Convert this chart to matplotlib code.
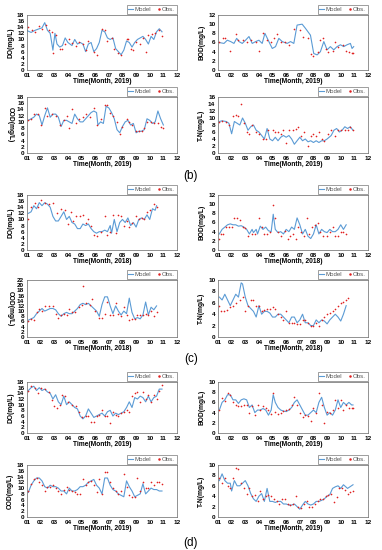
import matplotlib
matplotlib.use("Agg")
import matplotlib.pyplot as plt

plt.rcParams['font.family'] = ['Liberation Sans', 'DejaVu Sans']

# ---- data: (month, value) pairs ----
# group (b): 2019
DO_B_MODEL = [(1.05,12.8),(1.3,12.3),(1.6,13.0),(1.9,13.5),(2.1,13.8),(2.3,15.5),(2.5,13.0),(2.7,12.0),(2.9,6.5),
              (3.05,12.0),(3.2,8.5),(3.4,7.5),(3.6,8.0),(3.8,10.5),(4.0,9.0),(4.3,8.0),(4.5,10.0),(4.7,8.5),(4.9,9.0),
              (5.1,8.5),(5.3,6.0),(5.5,8.5),(5.7,9.0),(5.9,6.0),(6.1,7.0),(6.3,9.0),(6.5,13.0),(6.7,12.5),(6.9,10.5),
              (7.1,10.0),(7.3,10.5),(7.5,7.0),(7.7,6.0),(7.9,5.0),(8.1,6.5),(8.3,9.5),(8.5,9.0),(8.7,7.5),(8.9,9.0),
              (9.1,10.0),(9.3,10.5),(9.5,11.0),(9.7,10.0),(9.9,8.5),(10.1,11.0),(10.3,10.0),(10.5,12.5),(10.7,13.5),(10.9,12.5)]
DO_B_OBS = [(1.1,14.0),(1.4,13.2),(1.6,12.5),(1.9,14.5),(2.1,13.5),(2.4,14.8),(2.6,13.0),(2.8,12.5),(2.9,5.5),(3.1,11.5),
            (3.4,7.0),(3.6,7.0),(3.8,8.5),(4.1,10.0),(4.3,8.8),(4.6,8.0),(4.8,9.0),(5.1,8.5),(5.3,6.5),(5.5,9.5),(5.9,5.8),
            (6.1,4.8),(6.5,13.5),(6.7,13.0),(6.9,9.5),(7.2,10.5),(7.4,7.0),(7.7,5.5),(7.9,5.0),(8.3,10.0),(8.4,10.2),
            (8.6,7.0),(8.8,6.5),(9.0,9.0),(9.3,8.5),(9.5,10.5),(9.7,6.0),(9.9,11.5),(10.2,11.8),(10.4,12.0),(10.7,13.0),(10.9,11.0)]
BOD_B_MODEL = [(1.07,6.0),(1.44,5.8),(1.68,6.5),(1.93,6.2),(2.17,5.8),(2.37,6.9),(2.54,6.2),(2.78,5.8),(3.02,6.5),(3.27,7.3),
               (3.51,5.8),(3.76,6.2),(4.0,6.5),(4.24,5.8),(4.44,8.0),(4.73,6.2),(4.98,4.7),(5.22,5.1),(5.46,6.9),(5.71,6.2),
               (6.07,5.8),(6.32,6.2),(6.56,5.8),(6.8,9.8),(7.17,10.0),(7.41,9.1),(7.78,7.6),(8.02,3.6),(8.27,3.3),(8.51,4.0),
               (8.76,6.2),(9.0,4.4),(9.24,5.1),(9.49,4.4),(9.73,5.1),(9.98,5.5),(10.22,5.1),(10.46,5.5),(10.71,5.8),(10.83,4.7),(10.95,5.1)]
BOD_B_OBS = [(1.1,6.0),(1.4,7.0),(1.5,7.0),(1.9,4.2),(2.3,7.8),(2.5,6.5),(2.8,6.5),(3.1,6.0),(3.4,6.5),(3.8,6.0),(4.0,4.2),
             (4.3,8.0),(4.6,6.5),(4.9,6.0),(5.1,7.0),(5.3,7.8),(5.6,6.0),(5.9,6.0),(6.2,5.5),(6.6,9.0),(7.0,8.8),(7.2,7.2),
             (7.6,7.0),(7.8,3.5),(8.0,3.0),(8.3,4.0),(8.5,6.5),(8.7,7.0),(8.9,4.5),(9.1,4.0),(9.4,4.2),(9.6,6.0),(9.8,5.0),
             (10.2,5.5),(10.4,4.2),(10.6,4.0),(10.8,3.8),(10.9,3.6)]
COD_B_MODEL = [(1.1,10.5),(1.3,11),(1.5,11.5),(1.7,12.5),(1.9,12),(2.1,9),(2.3,12),(2.5,14.5),(2.7,11.5),(2.9,12.5),(3.1,12.5),
               (3.3,11.5),(3.5,8.5),(3.7,10.5),(3.9,10.5),(4.1,10),(4.3,9.5),(4.5,12.5),(4.7,11),(4.9,10),(5.1,10),(5.3,11),
               (5.5,12),(5.7,13),(5.9,13.5),(6.1,13),(6.2,9),(6.4,10),(6.6,9.5),(6.8,15),(7.0,14.5),(7.2,13),(7.4,11),(7.6,7.5),
               (7.8,6.5),(8.0,8.5),(8.2,10),(8.4,10.5),(8.6,9),(8.8,9.5),(9.0,6.5),(9.2,7),(9.4,7),(9.6,7.5),(9.8,11),(10.0,10.5),
               (10.2,9.5),(10.4,10),(10.6,13.5),(10.8,11),(11.0,9)]
COD_B_OBS = [(1.1,10.5),(1.3,11),(1.5,12.5),(1.8,12.5),(2.0,9),(2.3,14.5),(2.5,12),(2.8,12.5),(3.1,12),(3.4,9),(3.7,10.5),
             (3.9,12),(4.1,8),(4.3,14),(4.6,9.5),(4.8,11),(5.1,11.5),(5.3,12.5),(5.6,11.5),(5.9,14.5),(6.1,9),(6.4,11),
             (6.7,15.5),(6.9,15.5),(7.1,13),(7.3,12),(7.6,10),(7.8,6),(8.0,8.5),(8.3,11),(8.5,10),(8.7,9),(9.0,7),(9.2,7),
             (9.4,7),(9.6,8),(9.8,10),(10.1,10),(10.3,9.5),(10.6,9.5),(10.8,8.5),(11.0,8)]
TN_B_MODEL = [(1.1,9),(1.3,9.2),(1.6,9),(1.8,8.5),(2.0,5.5),(2.2,9),(2.4,8.5),(2.6,8),(2.8,10),(3.0,8.5),(3.2,6.5),(3.4,7.5),
              (3.6,8),(3.8,6.5),(4.0,6),(4.2,5),(4.4,4),(4.6,7),(4.8,4),(5.0,3.5),(5.2,4.5),(5.4,3.5),(5.6,4.5),(5.8,5),
              (6.0,4.5),(6.2,5),(6.4,4),(6.6,2.5),(6.8,3.5),(7.0,4.5),(7.2,3.5),(7.4,4),(7.6,3.2),(7.8,3.5),(8.0,3),(8.2,3.5),
              (8.4,3),(8.6,3.5),(8.8,3.5),(9.0,4),(9.3,5),(9.5,6.5),(9.7,7),(9.9,6),(10.1,6.5),(10.3,7.5),(10.5,7),(10.7,7.5),(10.9,6.5)]
TN_B_OBS = [(1.1,9),(1.3,9.2),(1.6,9),(1.8,8),(2.1,10.5),(2.3,11),(2.5,10.5),(2.7,14),(2.9,8.5),(3.1,6),(3.3,5.5),(3.5,8),
            (3.8,6),(4.0,5.5),(4.3,4),(4.5,4),(4.7,6.5),(5.0,6.5),(5.2,6),(5.4,6),(5.6,5.5),(5.8,6.5),(6.0,3),(6.2,6.5),
            (6.5,6.5),(6.7,7),(6.9,7.5),(7.1,5),(7.3,6),(7.6,2),(7.8,5),(8.0,5.5),(8.2,5),(8.4,6),(8.6,4),(8.8,3.5),(9.1,5.5),
            (9.3,6.5),(9.6,5),(9.8,6.5),(10.0,6.5),(10.3,6.5),(10.5,6.5),(10.7,7.5),(10.9,6.5)]

# group (c): 2018
DO_C_MODEL = [(1.1,12),(1.3,12.5),(1.5,14.5),(1.7,13.5),(1.9,15.5),(2.1,14.5),(2.3,15.5),(2.5,15),(2.7,14),(2.9,11),(3.1,9.5),
              (3.3,9.5),(3.5,11),(3.7,12.5),(3.9,10),(4.1,11),(4.3,9),(4.5,8.5),(4.7,7),(4.9,7),(5.1,8.5),(5.3,8),(5.5,8.5),
              (5.7,7),(5.9,6),(6.1,5.5),(6.3,6),(6.5,6),(6.7,6.5),(6.9,6),(7.1,8),(7.2,5.5),(7.4,10),(7.6,6),(7.8,9),(8.0,10),
              (8.2,9),(8.4,10.5),(8.6,8),(8.8,9),(9.0,7.5),(9.2,10),(9.4,10.5),(9.6,10),(9.8,11.5),(10.0,10),(10.2,13.5),(10.4,13),(10.5,14.5)]
DO_C_OBS = [(1.05,10),(1.3,14),(1.6,15.5),(1.8,14),(2.0,16.5),(2.3,15.5),(2.6,15),(2.9,15.5),(3.2,12),(3.5,13.5),(3.8,13),
            (4.0,8.5),(4.2,12.5),(4.4,9.5),(4.6,11),(4.9,11),(5.1,11.5),(5.3,9),(5.5,10),(5.7,8),(5.9,5),(6.1,4.5),(6.4,6),
            (6.7,11),(6.9,5),(7.1,6),(7.3,11.5),(7.5,5.5),(7.7,11.5),(7.9,11),(8.1,8),(8.3,9.5),(8.5,7.5),(8.7,9),(9.0,11),
            (9.2,10),(9.4,10.5),(9.6,10),(9.8,12.5),(10.0,13),(10.3,15),(10.5,14)]
BOD_C_MODEL = [(1.1,3.5),(1.3,4.5),(1.5,5),(1.7,5.5),(1.9,5.7),(2.1,5.5),(2.3,5.5),(2.5,5.2),(2.7,5.3),(2.9,5),(3.1,4.5),
               (3.3,3.5),(3.5,4.5),(3.6,3.8),(3.8,4.5),(3.9,3.5),(4.1,5.2),(4.3,4.5),(4.5,5),(4.7,4.2),(4.9,4),(5.05,7.8),
               (5.2,4.5),(5.4,3.8),(5.6,4),(5.8,3.5),(6.0,4.5),(6.2,4),(6.4,5),(6.6,4.5),(6.8,7),(7.0,5.5),(7.2,3.5),(7.4,4.5),
               (7.6,3),(7.8,2.5),(8.0,3.5),(8.2,5.5),(8.4,3.5),(8.6,4.5),(8.8,4),(9.0,3.8),(9.2,4.5),(9.4,4),(9.6,4),(9.8,4.5),
               (10.0,5.5),(10.2,4.5),(10.4,5.5)]
BOD_C_OBS = [(1.05,2.5),(1.2,3.5),(1.4,3.5),(1.6,5),(1.8,5),(2.0,5),(2.2,7),(2.4,7),(2.6,6.5),(2.8,5),(3.0,4.8),(3.2,3),
             (3.5,3.5),(3.7,3.5),(4.0,7),(4.2,5),(4.4,3.5),(4.6,3.5),(4.8,4),(5.0,9.8),(5.2,7),(5.4,4),(5.6,3),(5.9,4.2),
             (6.1,2.5),(6.3,3),(6.5,3.5),(6.7,2.5),(6.9,5),(7.1,4),(7.3,3),(7.5,7),(7.7,3.5),(7.9,5),(8.1,5.5),(8.3,6),(8.5,4),
             (8.7,3),(9.0,3),(9.2,4),(9.4,5),(9.6,3),(9.8,3),(10.0,4),(10.2,4),(10.4,3.5)]
COD_C_MODEL = [(1.1,6.5),(1.3,7),(1.5,7.5),(1.7,9),(1.9,10),(2.1,11),(2.3,10),(2.5,10.5),(2.7,11),(2.9,11),(3.1,10.5),(3.3,9),
               (3.5,8),(3.7,9),(3.9,9.5),(4.1,9),(4.3,9),(4.5,10),(4.7,11),(4.9,12.5),(5.1,13),(5.3,12.5),(5.5,13),(5.7,12),
               (5.9,11),(6.1,10),(6.3,8),(6.5,12.5),(6.7,15.5),(6.9,15.5),(7.1,12),(7.3,9),(7.5,12),(7.7,10),(7.9,8.5),(8.1,10),
               (8.3,9),(8.5,15),(8.7,9.5),(8.9,7),(9.1,7.5),(9.3,7),(9.5,8.5),(9.7,13.5),(9.9,8.5),(10.1,11.5),(10.3,10.5),(10.5,12)]
COD_C_OBS = [(1.05,6),(1.3,7),(1.5,6.5),(1.7,9.5),(1.9,11),(2.1,10),(2.3,12),(2.6,12),(2.9,12),(3.1,9),(3.3,7.5),(3.5,8.5),
             (3.7,9),(3.9,8.5),(4.1,11),(4.3,9.5),(4.5,9.5),(4.8,11.5),(5.0,12.5),(5.1,19.5),(5.3,13),(5.6,12.5),(5.8,14.5),
             (6.0,10),(6.3,7.5),(6.5,7.5),(6.7,9),(6.9,13.5),(7.1,8.5),(7.3,8.5),(7.5,13),(7.7,9),(7.9,8),(8.1,11.5),(8.3,8.5),
             (8.5,6.5),(8.7,7),(8.9,7),(9.1,8.5),(9.3,8.5),(9.5,8.5),(9.7,9),(9.9,8.5),(10.1,10),(10.3,8),(10.5,9.5)]
TN_C_MODEL = [(1.1,7),(1.3,6.5),(1.5,7.5),(1.7,6.5),(1.9,5.5),(2.1,6.5),(2.3,7.5),(2.5,7),(2.7,9.5),(2.8,9.3),(3.0,7),(3.2,5.5),
              (3.4,5),(3.6,4.5),(3.8,3.5),(4.0,5.5),(4.2,4),(4.4,4.5),(4.6,4.5),(4.8,4.2),(5.0,3.5),(5.2,3.5),(5.4,4),(5.6,4),
              (5.8,3.5),(6.0,3),(6.2,2.5),(6.4,3.5),(6.6,3.5),(6.8,2.5),(7.0,3),(7.2,4),(7.4,2.5),(7.6,2.5),(7.8,2),(8.0,2),
              (8.2,3),(8.4,2.5),(8.6,3),(8.8,2.8),(9.0,2.3),(9.2,3),(9.4,3.5),(9.6,4),(9.8,3.5),(10.0,2.8),(10.2,4),(10.4,5.5)]
TN_C_OBS = [(1.05,5.5),(1.25,4.5),(1.45,4.5),(1.65,4.8),(1.85,5.2),(2.1,5.5),(2.3,6),(2.6,6.5),(2.8,7),(3.0,4.5),(3.2,5.5),
            (3.4,6.5),(3.6,6.5),(3.8,5.5),(4.0,5.5),(4.2,4.5),(4.4,4.8),(4.6,5),(4.8,5),(5.0,5.2),(5.2,5),(5.4,4),(5.6,3.5),
            (5.8,3),(6.0,4.5),(6.2,2.5),(6.4,2.5),(6.6,2.5),(6.8,2.2),(7.0,2.3),(7.2,3),(7.4,3),(7.6,2.5),(7.8,2),(8.0,2),
            (8.2,2.5),(8.4,2),(8.6,3),(8.8,3.5),(9.0,4),(9.2,4.2),(9.4,4.5),(9.6,5),(9.8,5.5),(10.0,6),(10.2,6.2),(10.4,6.5),(10.5,6.8)]

# group (d): 2019
DO_D_MODEL = [(1.1,15),(1.3,16),(1.5,16.5),(1.7,15),(1.9,16),(2.1,15),(2.3,15.5),(2.5,14.5),(2.7,14),(2.9,12),(3.1,13.5),
              (3.3,11),(3.5,10),(3.7,13),(3.9,10),(4.1,11),(4.3,10),(4.5,9),(4.7,8.5),(4.9,6),(5.1,5),(5.3,6),(5.5,8.5),(5.7,7),
              (5.9,5.5),(6.1,6),(6.3,6.5),(6.5,7),(6.7,6),(6.9,7.5),(7.1,8),(7.3,6),(7.5,7),(7.7,6.5),(7.9,7),(8.1,7.5),(8.3,9),
              (8.5,11),(8.7,9),(8.9,12.5),(9.1,12),(9.3,13),(9.5,12.5),(9.7,11),(9.9,13),(10.1,11),(10.3,12.5),(10.5,13),(10.7,15.5),(10.9,15.5)]
DO_D_OBS = [(1.05,15),(1.3,16.5),(1.6,16),(1.8,14),(2.0,16),(2.3,15.5),(2.6,14.5),(2.8,11.5),(3.0,9.5),(3.2,9),(3.4,10),
            (3.6,13.5),(3.8,13),(4.0,11),(4.3,10),(4.6,9.5),(4.8,7.5),(5.0,5.5),(5.3,6),(5.5,6),(5.7,4),(5.9,4),(6.1,6),(6.3,6.5),
            (6.5,8),(6.7,6),(6.9,6),(7.1,3.5),(7.3,7.5),(7.5,6.5),(7.7,6),(7.9,7),(8.1,7.5),(8.3,8),(8.5,7.5),(8.7,13),(8.9,14),
            (9.1,14.5),(9.3,11),(9.5,14.5),(9.7,12),(9.9,13.5),(10.1,11),(10.3,13.5),(10.5,12),(10.7,15),(10.9,17)]
BOD_D_MODEL = [(1.1,4.5),(1.3,6),(1.5,6.5),(1.7,7.5),(1.9,7.5),(2.1,6.5),(2.3,6.5),(2.5,5.8),(2.7,6.5),(2.9,6.7),(3.1,6.5),
               (3.3,5),(3.5,5.5),(3.7,4),(3.9,4.5),(4.1,4.5),(4.3,4.8),(4.5,4.5),(4.7,3.5),(4.9,4.5),(5.05,7.5),(5.2,6),(5.4,5),
               (5.6,4.5),(5.8,4.3),(6.0,4.2),(6.2,4.5),(6.4,5),(6.6,6),(6.8,6.5),(7.0,5.5),(7.2,4.5),(7.4,3.5),(7.6,3.5),(7.8,4),
               (8.0,4.5),(8.2,4),(8.4,6),(8.6,7),(8.8,5),(9.0,3.5),(9.2,4),(9.4,3.5),(9.6,4.5),(9.8,6.5),(10.0,5),(10.2,6),
               (10.4,5.5),(10.6,6),(10.8,5.5),(10.9,5.5)]
BOD_D_OBS = [(1.05,4.5),(1.3,6.8),(1.5,6.3),(1.7,7.8),(1.9,7.5),(2.1,6),(2.3,5.5),(2.5,5.2),(2.7,5.3),(2.9,5.5),(3.1,5.5),
             (3.3,4),(3.5,5.2),(3.7,3.5),(3.9,5.5),(4.1,4.5),(4.3,5.3),(4.5,5),(4.7,4.5),(4.9,3.8),(5.05,7.8),(5.2,4.2),
             (5.4,3.8),(5.6,4),(5.8,4.3),(6.0,4.5),(6.2,4.8),(6.4,5.5),(6.6,7),(6.8,5.5),(7.0,4),(7.2,3.2),(7.4,3.5),(7.6,3.3),
             (7.8,2.3),(8.0,5),(8.2,4),(8.4,7.8),(8.6,5.5),(8.8,2),(9.0,4.2),(9.2,4),(9.4,4.5),(9.6,6.5),(9.8,5),(10.0,6.5),
             (10.2,4.5),(10.4,5.5),(10.6,5),(10.8,5),(10.9,5)]
COD_D_MODEL = [(1.1,8.5),(1.3,11),(1.5,12.5),(1.7,13.5),(1.9,13.5),(2.1,12.5),(2.3,10.5),(2.5,10),(2.7,11),(2.9,10.5),(3.1,10.5),
               (3.3,10),(3.5,9),(3.7,9),(3.9,8),(4.1,10),(4.3,9),(4.5,9),(4.7,9.5),(4.9,10.5),(5.1,10.5),(5.3,11),(5.5,12),
               (5.7,12.5),(5.9,13),(6.1,11),(6.3,10),(6.5,8),(6.7,13.5),(6.9,13.5),(7.1,11),(7.3,9.5),(7.5,9),(7.7,8),(7.9,7.5),
               (8.1,7),(8.3,12.5),(8.5,10.5),(8.7,9),(8.9,7),(9.1,7.5),(9.3,8),(9.5,11.5),(9.7,8),(9.9,9),(10.1,10),(10.3,9.5),
               (10.5,9.5),(10.7,9),(10.9,9)]
COD_D_OBS = [(1.05,9),(1.3,11.5),(1.5,13),(1.7,13.5),(1.9,12),(2.1,11),(2.3,9),(2.5,10.5),(2.7,10.5),(2.9,11),(3.1,10),(3.3,9),
             (3.5,8),(3.7,9.5),(3.9,10.5),(4.1,9.5),(4.3,9),(4.5,8.5),(4.7,8),(4.9,8),(5.1,13),(5.3,11),(5.5,12),(5.7,12.5),
             (5.9,11),(6.1,8.5),(6.3,13),(6.5,8),(6.7,15.5),(6.9,15.5),(7.1,12),(7.3,10),(7.5,9),(7.7,8),(7.9,9),(8.1,15),
             (8.3,10.5),(8.5,7.5),(8.7,7),(8.9,7),(9.1,13.5),(9.3,9),(9.5,12),(9.7,10),(9.9,10),(10.1,12),(10.3,11),(10.5,12),
             (10.7,12),(10.9,11.5)]
TN_D_MODEL = [(1.1,7),(1.3,8.3),(1.5,7),(1.7,6.5),(1.9,6.5),(2.0,5),(2.2,7),(2.4,6),(2.6,6),(2.8,6.5),(3.0,7),(3.2,6),(3.4,4.5),
              (3.6,3.5),(3.8,3),(4.0,4),(4.2,4.5),(4.4,3),(4.6,5.5),(4.8,3),(5.0,3),(5.2,2.8),(5.4,3),(5.6,3),(5.8,2.5),(6.0,2.5),
              (6.2,2.3),(6.4,2.3),(6.6,2.5),(6.8,2),(7.0,1.5),(7.2,2.3),(7.4,3),(7.6,2.5),(7.8,2.3),(8.0,2.5),(8.2,3),(8.4,3),
              (8.6,3.2),(8.8,3.5),(9.0,4),(9.2,4.3),(9.4,5.5),(9.6,5.8),(9.8,6),(10.0,5.5),(10.2,6.2),(10.5,5.5),(10.9,6.2)]
TN_D_OBS = [(1.05,7.5),(1.3,6.5),(1.5,7.5),(1.7,6),(1.9,5.5),(2.1,7.5),(2.3,9.5),(2.5,9.2),(2.7,6.5),(2.9,5.5),(3.1,4.5),
            (3.3,5.5),(3.5,4),(3.7,4.3),(3.9,3),(4.1,5),(4.3,3.5),(4.5,4),(4.7,4.2),(4.9,4),(5.1,3.5),(5.3,3),(5.5,2.5),
            (5.7,3.5),(5.9,3.5),(6.1,2.5),(6.3,2.3),(6.5,2.5),(6.7,4),(6.9,2),(7.1,1.8),(7.3,2.5),(7.5,3),(7.7,2),(7.9,2),
            (8.1,2.5),(8.3,3),(8.5,3.5),(8.7,3.5),(8.9,4),(9.1,4.2),(9.3,4.5),(9.5,2.8),(9.7,3.8),(9.9,5.5),(10.1,5.5),
            (10.3,5.2),(10.5,4.5),(10.7,4.8),(10.9,5)]

MONTH_LABELS = ["01", "02", "03", "04", "05", "06", "07", "08", "09", "10", "11", "12"]

# panel: (model, obs, ylabel, ymax, year, label rotation)
PANELS = [
    (DO_B_MODEL, DO_B_OBS, "DO(mg/L)", 18, 2019, 90),
    (BOD_B_MODEL, BOD_B_OBS, "BOD(mg/L)", 12, 2019, 90),
    (COD_B_MODEL, COD_B_OBS, "COD(mg/L)", 18, 2019, 270),
    (TN_B_MODEL, TN_B_OBS, "T-N(mg/L)", 16, 2019, 90),
    (DO_C_MODEL, DO_C_OBS, "DO(mg/L)", 18, 2018, 90),
    (BOD_C_MODEL, BOD_C_OBS, "BOD(mg/L)", 12, 2018, 90),
    (COD_C_MODEL, COD_C_OBS, "COD(mg/L)", 22, 2018, 270),
    (TN_C_MODEL, TN_C_OBS, "T-N(mg/L)", 10, 2018, 90),
    (DO_D_MODEL, DO_D_OBS, "DO(mg/L)", 18, 2019, 90),
    (BOD_D_MODEL, BOD_D_OBS, "BOD(mg/L)", 10, 2019, 90),
    (COD_D_MODEL, COD_D_OBS, "COD(mg/L)", 18, 2019, 90),
    (TN_D_MODEL, TN_D_OBS, "T-N(mg/L)", 10, 2019, 90),
]

# axes boxes in pixels (top, bottom) per row
ROWS_PX = [(15, 70), (97, 153), (195, 250), (280, 337), (382, 433), (465, 517)]
COLS_PX = [27, 218]
AX_W = 150
W, H = 382, 550

MODEL_COLOR = "#5B9BD5"
OBS_COLOR = "#E02020"

fig = plt.figure(figsize=(W / 100, H / 100), dpi=100)

for i, (model, obs, ylab, ymax, year, rot) in enumerate(PANELS):
    row, col = divmod(i, 2)
    top, bot = ROWS_PX[row]
    ax = fig.add_axes([COLS_PX[col] / W, 1 - bot / H, AX_W / W, (bot - top) / H])
    mx = [p[0] for p in model]
    my = [p[1] for p in model]
    ox = [p[0] for p in obs]
    oy = [p[1] for p in obs]
    ax.plot(mx, my, color=MODEL_COLOR, lw=0.8, label="Model")
    ax.plot(ox, oy, ls="none", marker="o", ms=1.2, color=OBS_COLOR, mec="none", label="Obs.")
    ax.set_xlim(1, 12)
    ax.set_ylim(0, ymax)
    ax.set_xticks(range(1, 13))
    ax.set_xticklabels(MONTH_LABELS)
    ax.set_yticks(range(0, ymax + 1, 2))
    ax.tick_params(length=0, labelsize=4.6, pad=2)
    for t in ax.get_xticklabels() + ax.get_yticklabels():
        t.set_fontweight("bold")
    for s in ax.spines.values():
        s.set_color("#666666")
        s.set_linewidth(0.5)
    ax.set_xlabel(f"Time(Month, {year})", fontsize=4.8, fontweight="bold", labelpad=0.5)
    ax.set_ylabel(ylab, fontsize=4.8, fontweight="bold", rotation=rot, labelpad=2,
                  va="bottom" if rot == 90 else "top")
    leg = ax.legend(loc="lower right", bbox_to_anchor=(1.0, 1.02), ncol=2, fontsize=4.4,
                    frameon=True, fancybox=False, borderpad=0.3, handlelength=0.8,
                    handletextpad=0.2, columnspacing=0.8, borderaxespad=0.0, markerscale=1.5)
    leg.get_frame().set_edgecolor("#555555")
    leg.get_frame().set_linewidth(0.5)
    for t in leg.get_texts():
        t.set_color("#555555")

# group labels
for lab, ypx in [("(b)", 176), ("(c)", 359), ("(d)", 543)]:
    fig.text(0.5, 1 - ypx / H, lab, ha="center", va="center", fontsize=8.5)

fig.savefig("out.png", dpi=100)
